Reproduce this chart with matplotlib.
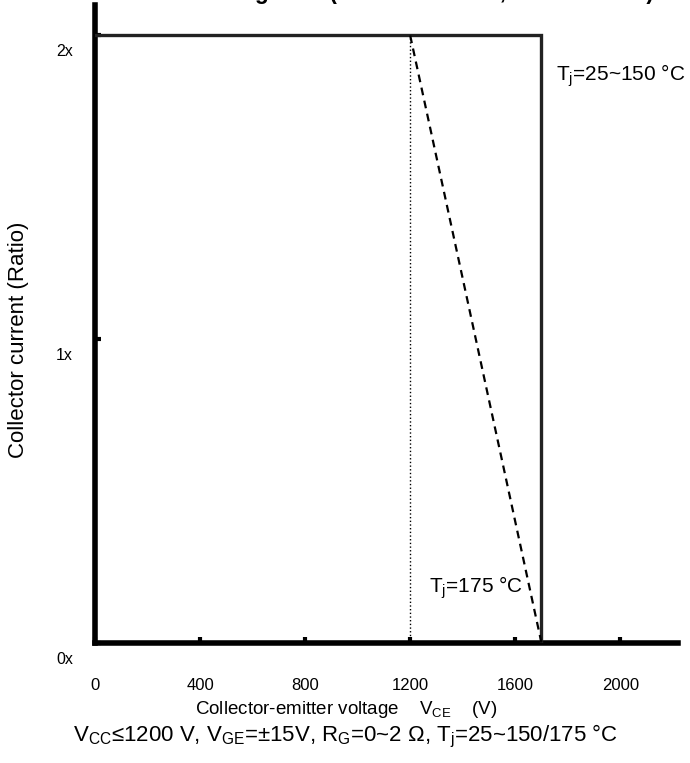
import matplotlib
matplotlib.use("Agg")
import matplotlib.pyplot as plt
import matplotlib.transforms as mtransforms

plt.rcParams['font.family'] = ['Liberation Sans', 'DejaVu Sans']
plt.rcParams['mathtext.fontset'] = 'custom'
plt.rcParams['mathtext.rm'] = 'Liberation Sans'
plt.rcParams['mathtext.it'] = 'Liberation Sans'

# data (voltage in V, current as ratio of rated)
soa_v = [0, 1700, 1700]
soa_i = [2, 2, 0]
hot_v = [1200, 1700]
hot_i = [2, 0]
knee_v = [1200, 1200]
knee_i = [0, 2]

x_ticks = [0, 400, 800, 1200, 1600, 2000]
x_labels = ['0', '400', '800', '1200', '1600', '2000']
y_ticks = [0, 1, 2]
y_labels = ['0x', '1x', '2x']

fig = plt.figure(figsize=(6.9, 7.63), dpi=100)
ax = fig.add_axes([0.1377, 0.1573, 0.845, 0.836])

ax.plot(soa_v, soa_i, color='#222222', lw=2.4, solid_joinstyle='miter', zorder=3)
ax.plot(hot_v, hot_i, color='black', lw=1.6, ls=(0, (3.5, 2.5)), zorder=3)
ax.plot(knee_v, knee_i, color='black', lw=1.0, ls=':', zorder=2)

ax.set_xlim(0, 2220)
ax.set_ylim(0, 2.1)

for s in ['top', 'right']:
    ax.spines[s].set_visible(False)
for s in ['left', 'bottom']:
    ax.spines[s].set_linewidth(4)
    ax.spines[s].set_color('black')

ax.set_xticks(x_ticks)
ax.set_xticklabels(x_labels, fontsize=12)
ax.set_yticks(y_ticks)
ax.set_yticklabels(y_labels, fontsize=11.5)
ax.tick_params(axis='both', direction='in', length=4, width=3, color='black')
ax.tick_params(axis='x', pad=25)
ax.tick_params(axis='y', pad=16)
# y labels sit a bit below their ticks
off = mtransforms.ScaledTranslation(0, -15 / 100, fig.dpi_scale_trans)
for lab in ax.get_yticklabels():
    lab.set_transform(lab.get_transform() + off)

ax.set_ylabel('Collector current (Ratio)', fontsize=16)
ax.yaxis.set_label_coords(-0.113, 0.475)
ax.set_xlabel(r'Collector-emitter voltage    V$_\mathrm{CE}$    (V)', fontsize=13.5)
ax.xaxis.set_label_coords(0.43, -0.0885)

ax.text(0.79, 0.89, r'T$_\mathrm{j}$=25~150 °C', transform=ax.transAxes,
        fontsize=15, va='center', ha='left')
ax.text(0.735, 0.086, r'T$_\mathrm{j}$=175 °C', transform=ax.transAxes,
        fontsize=15, va='center', ha='right')

fig.text(0.5, 1 - 736 / 763,
         r'V$_\mathrm{CC}$≤1200 V, V$_\mathrm{GE}$=±15V, R$_\mathrm{G}$=0~2 Ω, T$_\mathrm{j}$=25~150/175 °C',
         fontsize=16, ha='center', va='center')

# title sits above the canvas; only descenders peek in
fig.text(0.526, 1 + 1 / 763, 'Turn-off switching SOA (ratio to rated Ic, 1200 V class)',
         fontsize=16.3, fontweight='bold', ha='center', va='baseline')

fig.savefig('out.png', dpi=100)
